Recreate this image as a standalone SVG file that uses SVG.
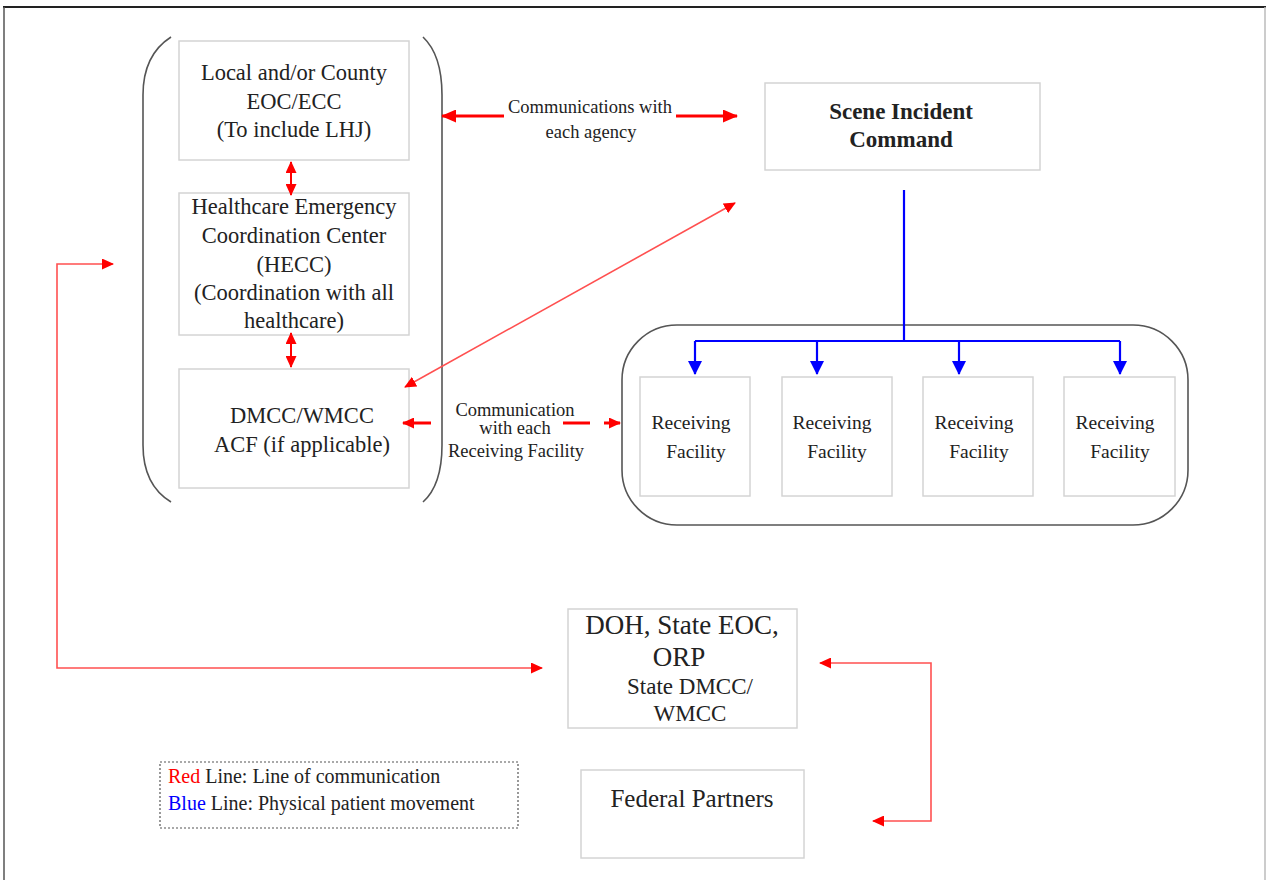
<svg xmlns="http://www.w3.org/2000/svg" width="1268" height="880" viewBox="0 0 1268 880">
<defs>
<style>
.box{fill:#fff;stroke:#d4d4d4;stroke-width:1.5}
.t{font-family:"Liberation Serif","Times New Roman",serif;fill:#222;text-anchor:middle}
.b{font-size:22.5px}
.c{font-size:18.5px}
.red{stroke:#ff0000;fill:none}
.redl{stroke:#ff5050;fill:none;stroke-width:1.6}
.blue{stroke:#0000ff;fill:none;stroke-width:2.2}
.brk{stroke:#555;fill:none;stroke-width:1.6}
</style>
<marker id="ra" markerUnits="userSpaceOnUse" markerWidth="15" markerHeight="13" refX="14" refY="6.5" orient="auto-start-reverse"><path d="M0,0 L15,6.5 L0,13 z" fill="#ff0000"/></marker>
<marker id="rs" markerUnits="userSpaceOnUse" markerWidth="12" markerHeight="11" refX="11" refY="5.5" orient="auto-start-reverse"><path d="M0,0 L12,5.5 L0,11 z" fill="#ff0000"/></marker>
<marker id="ba" markerUnits="userSpaceOnUse" markerWidth="14" markerHeight="14" refX="13" refY="7" orient="auto"><path d="M0,0 L14,7 L0,14 z" fill="#0000ff"/></marker>
</defs>
<rect x="0" y="0" width="1268" height="880" fill="#fff"/>
<line x1="3" y1="7" x2="1266" y2="7" stroke="#222" stroke-width="2"/>
<line x1="4" y1="7" x2="4" y2="880" stroke="#555" stroke-width="1.5"/>
<line x1="1265" y1="7" x2="1265" y2="880" stroke="#bbb" stroke-width="1.5"/>

<g id="bracket-group">
<path class="brk" d="M171,37 Q143,55 143,95 L143,445 Q143,485 171,502"/>
<path class="brk" d="M423,37 Q442,55 442,95 L442,445 Q442,485 423,502"/>
</g>

<g id="local-eoc">
<rect class="box" x="179" y="41" width="230" height="119"/>
<text class="t b" x="294" y="80">Local and/or County</text>
<text class="t b" x="294" y="109">EOC/ECC</text>
<text class="t b" x="294" y="137">(To include LHJ)</text>
</g>
<g id="hecc">
<rect class="box" x="179" y="193" width="230" height="142"/>
<text class="t b" x="294" y="214">Healthcare Emergency</text>
<text class="t b" x="294" y="243">Coordination Center</text>
<text class="t b" x="294" y="272">(HECC)</text>
<text class="t b" x="294" y="300">(Coordination with all</text>
<text class="t b" x="294" y="328">healthcare)</text>
</g>
<g id="dmcc">
<rect class="box" x="179" y="369" width="230" height="119"/>
<text class="t b" x="302" y="423">DMCC/WMCC</text>
<text class="t b" x="302" y="452">ACF (if applicable)</text>
</g>
<g id="scene-incident-command">
<rect class="box" x="765" y="83" width="275" height="87"/>
<text class="t" font-size="23" font-weight="bold" x="901" y="119">Scene Incident</text>
<text class="t" font-size="23" font-weight="bold" x="901" y="147">Command</text>
</g>
<g id="receiving-container">
<rect x="622" y="325" width="566" height="200" rx="55" ry="55" fill="none" stroke="#555" stroke-width="1.6"/>
</g>
<g id="rf1">
<rect class="box" x="640" y="377" width="110" height="119"/>
<text class="t" font-size="19.5" x="691" y="429">Receiving</text>
<text class="t" font-size="19.5" x="696" y="458">Facility</text>
</g>
<g id="rf2">
<rect class="box" x="782" y="377" width="110" height="119"/>
<text class="t" font-size="19.5" x="832" y="429">Receiving</text>
<text class="t" font-size="19.5" x="837" y="458">Facility</text>
</g>
<g id="rf3">
<rect class="box" x="923" y="377" width="110" height="119"/>
<text class="t" font-size="19.5" x="974" y="429">Receiving</text>
<text class="t" font-size="19.5" x="979" y="458">Facility</text>
</g>
<g id="rf4">
<rect class="box" x="1064" y="377" width="111" height="119"/>
<text class="t" font-size="19.5" x="1115" y="429">Receiving</text>
<text class="t" font-size="19.5" x="1120" y="458">Facility</text>
</g>
<g id="doh">
<rect class="box" x="568" y="609" width="229" height="119"/>
<text class="t" font-size="27" x="682" y="634">DOH, State EOC,</text>
<text class="t" font-size="27" x="679" y="666">ORP</text>
<text class="t" font-size="23" x="690" y="694">State DMCC/</text>
<text class="t" font-size="23" x="690" y="721">WMCC</text>
</g>
<g id="federal-partners">
<rect class="box" x="581" y="770" width="223" height="88"/>
<text class="t" font-size="25" x="692" y="807">Federal Partners</text>
</g>
<g id="legend">
<rect x="160" y="762" width="358" height="66" fill="none" stroke="#555" stroke-width="1.2" stroke-dasharray="2,2"/>
<text font-family="&quot;Liberation Serif&quot;,serif" font-size="20" x="168" y="783" fill="#222"><tspan fill="#ff0000">Red</tspan> Line: Line of communication</text>
<text font-family="&quot;Liberation Serif&quot;,serif" font-size="20" x="168" y="810" fill="#222"><tspan fill="#0000ff">Blue</tspan> Line: Physical patient movement</text>
</g>

<g id="connectors">
<line class="red" stroke-width="2" x1="291" y1="162" x2="291" y2="195" marker-start="url(#rs)" marker-end="url(#rs)"/>
<line class="red" stroke-width="2" x1="291" y1="333" x2="291" y2="367" marker-start="url(#rs)" marker-end="url(#rs)"/>
<line class="red" stroke-width="3" x1="504" y1="116" x2="442" y2="116" marker-end="url(#ra)"/>
<line class="red" stroke-width="3" x1="676" y1="116" x2="737" y2="116" marker-end="url(#ra)"/>
<text class="t c" x="590" y="113">Communications with</text>
<text class="t c" x="591" y="138">each agency</text>
<line class="redl" x1="735" y1="203" x2="405" y2="387" marker-start="url(#rs)" marker-end="url(#rs)"/>
<line class="red" stroke-width="3" x1="431" y1="423" x2="403" y2="423" marker-end="url(#rs)"/>
<line class="red" stroke-width="3" x1="563" y1="423" x2="590" y2="423"/>
<line class="red" stroke-width="3" x1="604" y1="423" x2="620" y2="423" marker-end="url(#rs)"/>
<text class="t c" x="515" y="416">Communication</text>
<text class="t c" x="515" y="434">with each</text>
<text class="t c" x="516" y="457">Receiving Facility</text>
<path class="blue" d="M904,190 L904,341"/>
<path class="blue" d="M695,341 L1120,341"/>
<path class="blue" d="M695,341 L695,374" marker-end="url(#ba)"/>
<path class="blue" d="M817,341 L817,374" stroke="#102a80" marker-end="url(#ba)"/>
<path class="blue" d="M959,341 L959,374" stroke="#102a80" marker-end="url(#ba)"/>
<path class="blue" d="M1120,341 L1120,374" marker-end="url(#ba)"/>
<path class="redl" d="M113,264 L57,264 L57,668 L542,668" marker-start="url(#rs)" marker-end="url(#rs)"/>
<path class="redl" d="M820,663 L931,663 L931,821 L873,821" marker-start="url(#rs)" marker-end="url(#rs)"/>
</g>
</svg>
